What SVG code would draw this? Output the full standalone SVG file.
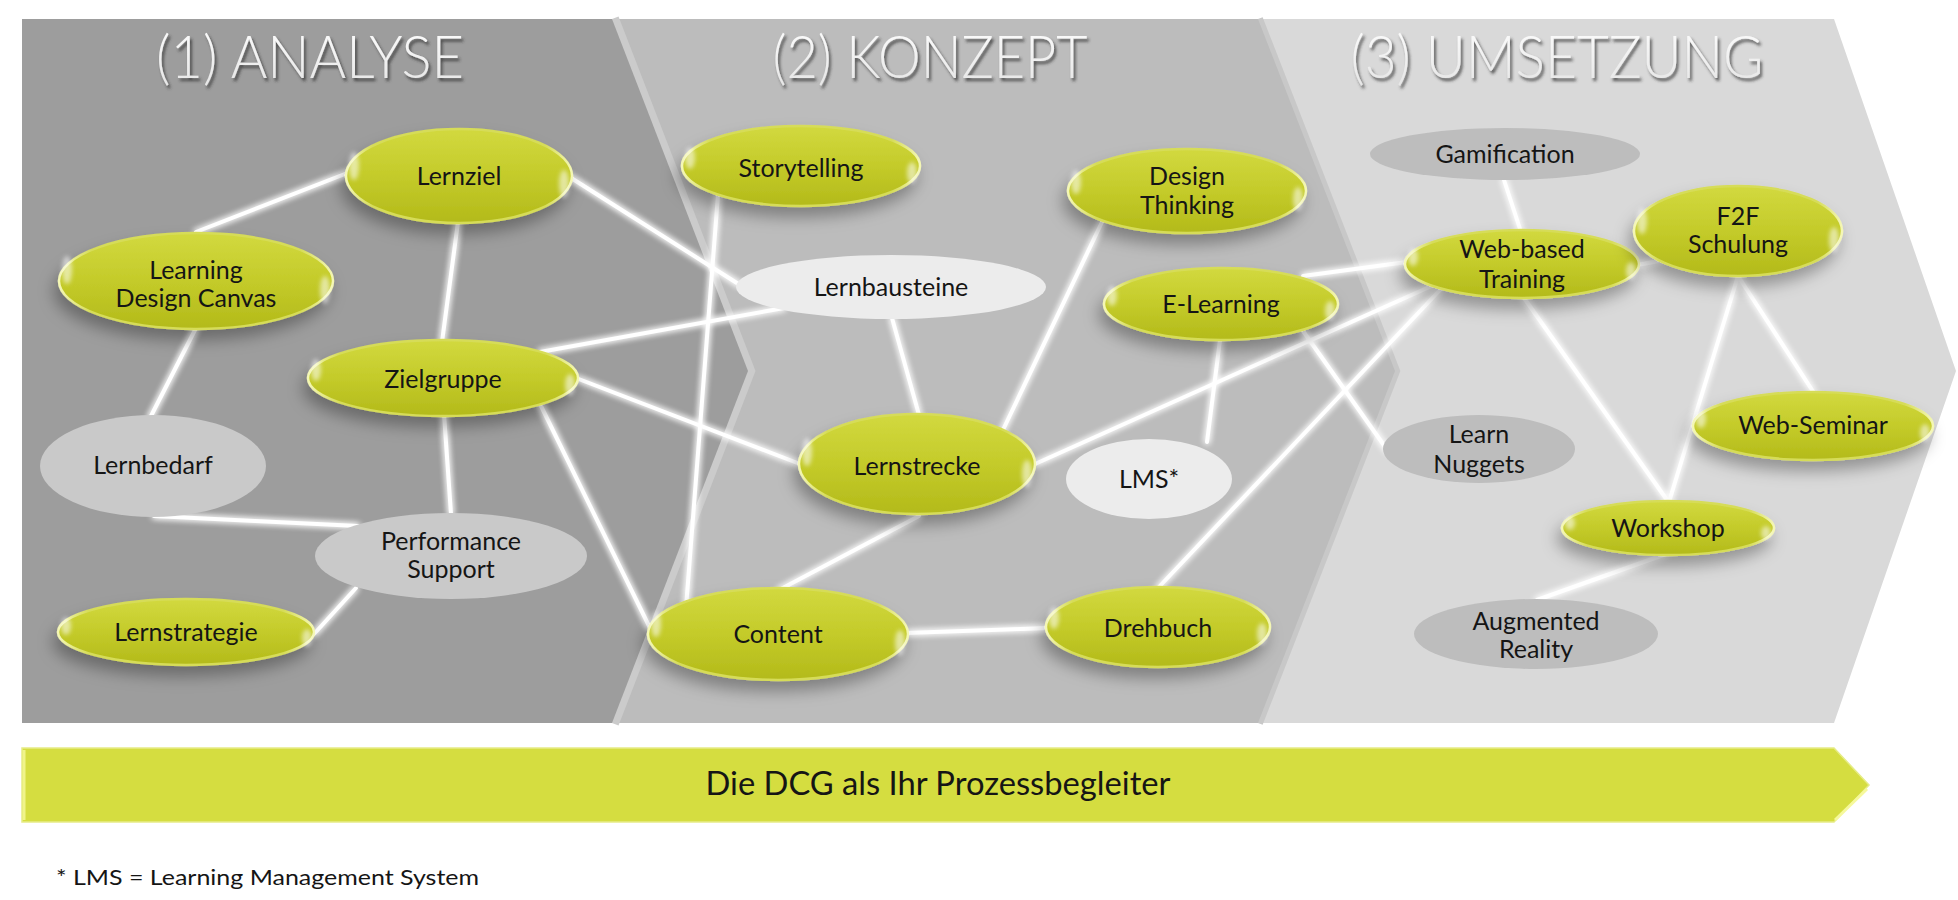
<svg xmlns="http://www.w3.org/2000/svg" width="1958" height="900" viewBox="0 0 1958 900">
<defs>
<style>
.lbl{font-family:Lato,"Open Sans","Liberation Sans",sans-serif;font-size:25px;fill:#151515;text-anchor:middle}
.title{font-family:Lato,"Open Sans","Liberation Sans",sans-serif;font-weight:300;font-size:60px;fill:url(#titleGrad);text-anchor:middle;filter:url(#titleShadow)}
.g{fill:url(#gGrad);stroke:url(#gStroke);stroke-width:2.5;filter:url(#nodeShadow)}
.spec{fill:#ffffff;opacity:.55;filter:url(#soft)}
.conn line{stroke:#ffffff;stroke-width:4;stroke-linecap:round}
.gray1{fill:#c9c9c9}
.gray2{fill:#ececec}
.gray3{fill:#bdbdbd}
</style>
<linearGradient id="gGrad" x1="0" y1="0" x2="0" y2="1">
<stop offset="0" stop-color="#d2d93f"/>
<stop offset="0.5" stop-color="#c4cb2a"/>
<stop offset="1" stop-color="#b3ba1a"/>
</linearGradient>
<linearGradient id="gStroke" x1="0" y1="0" x2="1" y2="0">
<stop offset="0" stop-color="#f4f7b4"/>
<stop offset="0.12" stop-color="#d6dc58"/>
<stop offset="0.88" stop-color="#d6dc58"/>
<stop offset="1" stop-color="#f4f7b4"/>
</linearGradient>
<linearGradient id="titleGrad" x1="0" y1="0" x2="0" y2="1">
<stop offset="0" stop-color="#ffffff"/>
<stop offset="1" stop-color="#e4e4e4"/>
</linearGradient>
<filter id="titleShadow" x="-10%" y="-30%" width="120%" height="160%">
<feDropShadow dx="2" dy="3" stdDeviation="1.8" flood-color="#333333" flood-opacity="0.8"/>
</filter>
<filter id="nodeShadow" x="-30%" y="-40%" width="160%" height="200%">
<feDropShadow dx="-4" dy="10" stdDeviation="8" flood-color="#000000" flood-opacity="0.32"/>
</filter>
<filter id="soft" x="-100%" y="-100%" width="300%" height="300%">
<feGaussianBlur stdDeviation="2"/>
</filter>
<filter id="glow" filterUnits="userSpaceOnUse" x="0" y="0" width="1958" height="900">
<feGaussianBlur in="SourceGraphic" stdDeviation="3" result="b"/>
<feMerge><feMergeNode in="b"/><feMergeNode in="b"/><feMergeNode in="SourceGraphic"/></feMerge>
</filter>
</defs>

<rect width="1958" height="900" fill="#ffffff"/>

<g id="panels">
<polygon points="1200,19 1834,19 1956,371 1834,723 1200,723" fill="#d9d9d9"/>
<polyline points="1258,19 1395,371 1258,723" fill="none" stroke="#c8c8c8" stroke-width="10"/>
<polygon points="580,19 1258,19 1395,371 1258,723 580,723" fill="#bcbcbc"/>
<polyline points="612,19 748,371 612,723" fill="none" stroke="#cbcbcb" stroke-width="14"/>
<polygon points="22,19 612,19 748,371 612,723 22,723" fill="#9d9d9d"/>
</g>

<g id="titles">
<text class="title" x="310" y="78" textLength="308" lengthAdjust="spacingAndGlyphs">(1) ANALYSE</text>
<text class="title" x="930" y="78" textLength="315" lengthAdjust="spacingAndGlyphs">(2) KONZEPT</text>
<text class="title" x="1557" y="78" textLength="413" lengthAdjust="spacingAndGlyphs">(3) UMSETZUNG</text>
</g>

<g id="connectors" class="conn" filter="url(#glow)">
<line x1="196" y1="232" x2="350" y2="172"/>
<line x1="458" y1="222" x2="442" y2="342"/>
<line x1="568" y1="176" x2="740" y2="285"/>
<line x1="196" y1="328" x2="150" y2="418"/>
<line x1="154" y1="516" x2="358" y2="526"/>
<line x1="356" y1="588" x2="314" y2="634"/>
<line x1="444" y1="414" x2="451" y2="514"/>
<line x1="540" y1="352" x2="784" y2="308"/>
<line x1="576" y1="378" x2="800" y2="464"/>
<line x1="540" y1="404" x2="650" y2="628"/>
<line x1="718" y1="195" x2="686" y2="608"/>
<line x1="892" y1="318" x2="919" y2="415"/>
<line x1="1102" y1="222" x2="1002" y2="432"/>
<line x1="919" y1="516" x2="779" y2="590"/>
<line x1="906" y1="633" x2="1048" y2="628"/>
<line x1="1158" y1="588" x2="1440" y2="290"/>
<line x1="1035" y1="464" x2="1436" y2="284"/>
<line x1="1303" y1="276" x2="1407" y2="262"/>
<line x1="1220" y1="340" x2="1207" y2="442"/>
<line x1="1303" y1="331" x2="1388" y2="451"/>
<line x1="1504" y1="180" x2="1521" y2="232"/>
<line x1="1637" y1="265" x2="1664" y2="260"/>
<line x1="1524" y1="298" x2="1667" y2="500"/>
<line x1="1738" y1="276" x2="1814" y2="393"/>
<line x1="1738" y1="276" x2="1669" y2="502"/>
<line x1="1666" y1="554" x2="1537" y2="600"/>
</g>

<g id="n-lernbedarf"><ellipse class="gray1" cx="153" cy="466" rx="113" ry="51"/><text class="lbl" x="153" y="474">Lernbedarf</text></g>
<g id="n-performance-support"><ellipse class="gray1" cx="451" cy="556" rx="136" ry="43" fill="#cbcbcb"/><text class="lbl" x="451" y="550">Performance</text><text class="lbl" x="451" y="578">Support</text></g>
<g id="n-lernbausteine"><ellipse class="gray2" cx="891" cy="287" rx="155" ry="32"/><text class="lbl" x="891" y="296">Lernbausteine</text></g>
<g id="n-lms"><ellipse class="gray2" cx="1149" cy="479" rx="83" ry="40"/><text class="lbl" x="1149" y="488">LMS*</text></g>
<g id="n-gamification"><ellipse class="gray3" cx="1505" cy="154" rx="135" ry="26"/><text class="lbl" x="1505" y="163">Gamification</text></g>
<g id="n-learn-nuggets"><ellipse class="gray3" cx="1479" cy="449" rx="96" ry="34"/><text class="lbl" x="1479" y="443">Learn</text><text class="lbl" x="1479" y="473">Nuggets</text></g>
<g id="n-augmented-reality"><ellipse class="gray3" cx="1536" cy="634" rx="122" ry="35"/><text class="lbl" x="1536" y="630">Augmented</text><text class="lbl" x="1536" y="658">Reality</text></g>

<g id="n-lernziel"><ellipse class="g" cx="459" cy="176" rx="113" ry="47"/><ellipse class="spec" cx="354" cy="166" rx="5" ry="14"/><ellipse class="spec" cx="564" cy="184" rx="5" ry="14"/><text class="lbl" x="459" y="185">Lernziel</text></g>
<g id="n-learning-design-canvas"><ellipse class="g" cx="196" cy="281" rx="137" ry="48"/><ellipse class="spec" cx="67" cy="270" rx="5" ry="14"/><ellipse class="spec" cx="325" cy="290" rx="5" ry="14"/><text class="lbl" x="196" y="279">Learning</text><text class="lbl" x="196" y="307">Design Canvas</text></g>
<g id="n-zielgruppe"><ellipse class="g" cx="443" cy="378" rx="135" ry="38"/><ellipse class="spec" cx="316" cy="370" rx="5" ry="11"/><ellipse class="spec" cx="570" cy="385" rx="5" ry="11"/><text class="lbl" x="443" y="388">Zielgruppe</text></g>
<g id="n-lernstrategie"><ellipse class="g" cx="186" cy="632" rx="128" ry="33"/><ellipse class="spec" cx="66" cy="626" rx="5" ry="9"/><ellipse class="spec" cx="307" cy="638" rx="5" ry="9"/><text class="lbl" x="186" y="641">Lernstrategie</text></g>
<g id="n-storytelling"><ellipse class="g" cx="801" cy="166" rx="119" ry="40"/><ellipse class="spec" cx="690" cy="158" rx="5" ry="11"/><ellipse class="spec" cx="912" cy="173" rx="5" ry="11"/><text class="lbl" x="801" y="177">Storytelling</text></g>
<g id="n-design-thinking"><ellipse class="g" cx="1187" cy="191" rx="119" ry="42"/><ellipse class="spec" cx="1076" cy="182" rx="5" ry="12"/><ellipse class="spec" cx="1298" cy="199" rx="5" ry="12"/><text class="lbl" x="1187" y="185">Design</text><text class="lbl" x="1187" y="214">Thinking</text></g>
<g id="n-e-learning"><ellipse class="g" cx="1221" cy="304" rx="117" ry="36"/><ellipse class="spec" cx="1112" cy="296" rx="5" ry="10"/><ellipse class="spec" cx="1330" cy="311" rx="5" ry="10"/><text class="lbl" x="1221" y="313">E-Learning</text></g>
<g id="n-lernstrecke"><ellipse class="g" cx="917" cy="464" rx="118" ry="50"/><ellipse class="spec" cx="807" cy="452" rx="5" ry="14"/><ellipse class="spec" cx="1027" cy="474" rx="5" ry="14"/><text class="lbl" x="917" y="475">Lernstrecke</text></g>
<g id="n-content"><ellipse class="g" cx="778" cy="634" rx="130" ry="46"/><ellipse class="spec" cx="656" cy="624" rx="5" ry="13"/><ellipse class="spec" cx="900" cy="643" rx="5" ry="13"/><text class="lbl" x="778" y="643">Content</text></g>
<g id="n-drehbuch"><ellipse class="g" cx="1158" cy="627" rx="112" ry="40"/><ellipse class="spec" cx="1054" cy="618" rx="5" ry="11"/><ellipse class="spec" cx="1262" cy="634" rx="5" ry="11"/><text class="lbl" x="1158" y="637">Drehbuch</text></g>
<g id="n-web-based-training"><ellipse class="g" cx="1522" cy="264" rx="117" ry="34"/><ellipse class="spec" cx="1413" cy="257" rx="5" ry="9"/><ellipse class="spec" cx="1631" cy="271" rx="5" ry="9"/><text class="lbl" x="1522" y="258">Web-based</text><text class="lbl" x="1522" y="288">Training</text></g>
<g id="n-f2f-schulung"><ellipse class="g" cx="1738" cy="231" rx="104" ry="45"/><ellipse class="spec" cx="1642" cy="221" rx="5" ry="13"/><ellipse class="spec" cx="1834" cy="240" rx="5" ry="13"/><text class="lbl" x="1738" y="225">F2F</text><text class="lbl" x="1738" y="253">Schulung</text></g>
<g id="n-web-seminar"><ellipse class="g" cx="1813" cy="426" rx="120" ry="34"/><ellipse class="spec" cx="1701" cy="419" rx="5" ry="9"/><ellipse class="spec" cx="1925" cy="433" rx="5" ry="9"/><text class="lbl" x="1813" y="434">Web-Seminar</text></g>
<g id="n-workshop"><ellipse class="g" cx="1668" cy="528" rx="106" ry="27"/><ellipse class="spec" cx="1570" cy="523" rx="5" ry="7"/><ellipse class="spec" cx="1766" cy="533" rx="5" ry="7"/><text class="lbl" x="1668" y="537">Workshop</text></g>

<g id="process-bar">
<polygon points="22,748 1834,748 1869,785 1834,822 22,822" fill="#d5dd40" stroke="#e6ec86" stroke-width="1.5"/>
<line x1="24" y1="750" x2="24" y2="820" stroke="#f0f48a" stroke-width="3"/>
<line x1="1867" y1="789" x2="1835" y2="820" stroke="#f6f99c" stroke-width="3"/>
<text x="938" y="795" textLength="465" lengthAdjust="spacingAndGlyphs" style="font-family:Lato,'Open Sans','Liberation Sans',sans-serif;font-size:32px;fill:#151515;text-anchor:middle">Die DCG als Ihr Prozessbegleiter</text>
</g>

<text x="56" y="885" textLength="423" lengthAdjust="spacingAndGlyphs" style="font-family:Lato,'Open Sans','Liberation Sans',sans-serif;font-size:21px;fill:#151515">* LMS = Learning Management System</text>
</svg>
